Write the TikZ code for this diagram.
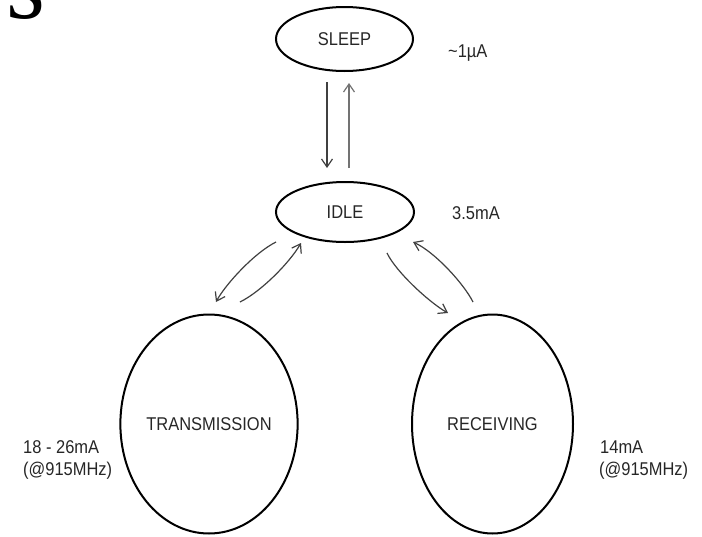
\documentclass[tikz,border=0pt]{standalone}
\usepackage{fontspec}
\setmainfont[FakeStretch=0.89]{Liberation Sans}
\newfontfamily\titlefont{Liberation Serif}
\usetikzlibrary{shapes.geometric,arrows.meta}
\begin{document}
\begin{tikzpicture}[x=1pt,y=-1pt,
  state/.style={ellipse, draw=black, line width=2pt, inner sep=0pt,
    font=\fontsize{18.5}{20}\selectfont, text=black!85},
  lbl/.style={anchor=base west, inner sep=0pt,
    font=\fontsize{18.5}{20}\selectfont, text=black!85},
  arr/.style={line width=1.2pt, draw=black!75,
    -{Straight Barb[length=8pt,width=11pt,line width=1.2pt]}},
]
\useasboundingbox (0,0) rectangle (702,536);
\clip (0,0) rectangle (702,536);

% cut-off title fragment
\node[anchor=base east, inner sep=0pt, font=\fontsize{100}{100}\titlefont]
  (title) at (46,18) {e\kern5pt s};

% states
\node[state, minimum width=137pt, minimum height=64pt] (sleep) at (344.5,39) {SLEEP};
\node[state, minimum width=138pt, minimum height=60pt] (idle) at (345,212) {IDLE};
\node[state, minimum width=160pt, minimum height=219pt] (tx) at (209,424) {TRANSMISSION};
\node[state, minimum width=161pt, minimum height=219pt] (rx) at (492.5,424) {RECEIVING};

% current labels
\node[lbl] (lsleep) at (448,57) {\textasciitilde1µA};
\node[lbl] (lidle) at (452,219) {3.5mA};
\node[lbl] (ltxa) at (23,453) {18 - 26mA};
\node[lbl] (ltxb) at (23,475) {(@915MHz)};
\node[lbl] (lrxa) at (600,453) {14mA};
\node[lbl] (lrxb) at (599,475) {(@915MHz)};

% connector end points
\coordinate (sd1) at (327,82);  \coordinate (sd2) at (327,168);
\coordinate (su1) at (349,168); \coordinate (su2) at (349,83);
\coordinate (it1) at (276,242); \coordinate (it2) at (216,302);
\coordinate (ti1) at (240,302); \coordinate (ti2) at (301,243);
\coordinate (ir1) at (387,253); \coordinate (ir2) at (448,313);
\coordinate (ri1) at (473,302); \coordinate (ri2) at (413,242);

% connectors
\draw[arr] (sd1) -- (sd2);
\draw[arr, draw=black!55] (su1) -- (su2);
\draw[arr] (it1) .. controls (254,253) and (225,285) .. (it2);
\draw[arr] (ti1) .. controls (262,291) and (290,262) .. (ti2);
\draw[arr] (ir1) .. controls (396,272) and (430,303) .. (ir2);
\draw[arr] (ri1) .. controls (464,284) and (435,252) .. (ri2);
\end{tikzpicture}
\end{document}
